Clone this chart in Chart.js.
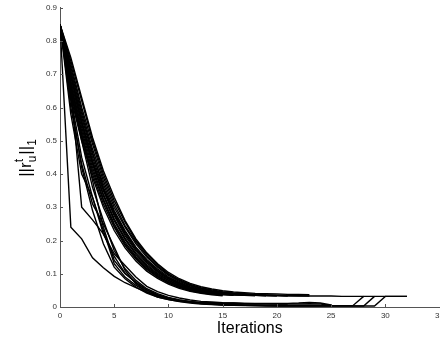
<!DOCTYPE html>
<html>
<head>
<meta charset="utf-8">
<script src="https://cdn.jsdelivr.net/npm/chart.js@4.4.1/dist/chart.umd.min.js"></script>
<style>
  html, body { margin: 0; padding: 0; background: #fff; overflow: hidden; }
  #wrap { position: relative; width: 448px; height: 341px; }
</style>
</head>
<body>
<div id="wrap"><canvas id="chart"></canvas></div>
<script>
// tick values
const xTicks = [0, 5, 10, 15, 20, 25, 30, 35];
const yTicks = [0, 0.1, 0.2, 0.3, 0.4, 0.5, 0.6, 0.7, 0.8, 0.9];

// upper bundle of residual curves (one value per iteration, from 0)
const b1 = [0.85,0.74,0.62,0.50,0.40,0.32,0.255,0.20,0.16,0.128,0.10,0.082,0.068,0.058,0.051,0.046,0.042,0.040,0.038,0.036,0.035,0.034,0.034,0.033,0.033,0.033,0.032,0.032,0.032,0.032,0.032,0.032,0.032];
const b2 = [0.85,0.73,0.60,0.49,0.39,0.31,0.245,0.195,0.155,0.123,0.098,0.080,0.066,0.056,0.049,0.044,0.041,0.039,0.037,0.036,0.035,0.034,0.033,0.033];
const b3 = [0.85,0.72,0.59,0.475,0.38,0.30,0.24,0.19,0.15,0.12,0.095,0.077,0.064,0.054,0.047,0.043,0.040,0.038,0.036,0.035,0.034,0.033];
const b4 = [0.85,0.70,0.57,0.46,0.37,0.29,0.23,0.18,0.143,0.114,0.091,0.074,0.061,0.052,0.046,0.042,0.039,0.037,0.035,0.034,0.033];
const b5 = [0.85,0.71,0.58,0.465,0.36,0.285,0.225,0.177,0.14,0.11,0.088,0.072,0.059,0.050,0.044,0.040,0.038,0.036,0.035,0.034];
const b6 = [0.85,0.69,0.56,0.45,0.355,0.28,0.22,0.173,0.137,0.108,0.086,0.070,0.058,0.049,0.043,0.040,0.037,0.035,0.034];
const b7 = [0.85,0.68,0.55,0.44,0.35,0.275,0.215,0.168,0.133,0.105,0.084,0.068,0.056,0.048,0.042,0.039,0.036,0.035];
const b8 = [0.85,0.70,0.555,0.435,0.34,0.265,0.207,0.162,0.128,0.101,0.081,0.066,0.055,0.047,0.042,0.038,0.036];
const b9 = [0.85,0.67,0.54,0.43,0.335,0.26,0.203,0.158,0.124,0.098,0.079,0.064,0.053,0.045,0.040,0.037,0.035];
const b10 = [0.85,0.66,0.53,0.42,0.325,0.25,0.195,0.152,0.12,0.095,0.076,0.062,0.052,0.045,0.040,0.037];
const b11 = [0.85,0.65,0.52,0.41,0.32,0.245,0.19,0.148,0.116,0.092,0.074,0.060,0.050,0.044,0.039,0.036];
const b12 = [0.85,0.64,0.51,0.40,0.31,0.24,0.185,0.144,0.113,0.090,0.072,0.059,0.049,0.043,0.038];
const b13 = [0.85,0.75,0.63,0.51,0.41,0.33,0.26,0.205,0.163,0.13,0.104,0.085,0.071,0.061,0.054,0.049,0.045,0.043,0.041,0.040,0.039,0.038,0.038,0.037];
const b14 = [0.85,0.63,0.50,0.39,0.30,0.23,0.178,0.138,0.108,0.086,0.069,0.056,0.047,0.041,0.037,0.034];

// lower curves that drop fast and jump back up at the end
const l1 = [0.85,0.24,0.205,0.148,0.118,0.092,0.073,0.058,0.045,0.035,0.027,0.021,0.016,0.012,0.009,0.007,0.006,0.005,0.004,0.004,0.003,0.003,0.003,0.003,0.003,0.003,0.003,0.003,0.003,0.003,0.032,0.032,0.032];
const l2 = [0.85,0.66,0.30,0.262,0.22,0.152,0.102,0.072,0.050,0.036,0.026,0.019,0.014,0.010,0.008,0.006,0.005,0.004,0.004,0.003,0.003,0.003,0.003,0.003,0.003,0.003,0.003,0.003,0.003,0.032];
const l3 = [0.85,0.62,0.42,0.29,0.19,0.12,0.085,0.060,0.042,0.030,0.022,0.016,0.012,0.009,0.007,0.006,0.005,0.005,0.004,0.004,0.004,0.004,0.004,0.004,0.004,0.004,0.004,0.004,0.032];
const l4 = [0.85,0.63,0.45,0.33,0.23,0.13,0.09,0.065,0.046,0.033,0.024,0.019,0.016,0.014,0.013,0.012,0.012,0.011,0.011,0.011,0.011,0.011,0.012,0.014,0.012,0.006];
const l5 = [0.85,0.60,0.43,0.31,0.25,0.18,0.11,0.07,0.045,0.030,0.022,0.017,0.014,0.012,0.011,0.010,0.010,0.009,0.009,0.009,0.009,0.009,0.009,0.010,0.009,0.005];
const l6 = [0.85,0.65,0.50,0.36,0.26,0.17,0.115,0.08,0.055,0.040,0.029,0.021,0.016,0.012,0.010,0.008,0.007,0.006,0.006,0.005,0.005,0.005,0.005,0.005,0.005];
const l7 = [0.85,0.58,0.40,0.33,0.22,0.16,0.125,0.09,0.062,0.046,0.035,0.027,0.021,0.017,0.015,0.013,0.012,0.011,0.010,0.010,0.009,0.009];
const l8 = [0.85,0.67,0.52,0.38,0.24,0.14,0.10,0.075,0.052,0.037,0.027,0.020,0.015,0.011,0.009,0.007,0.006,0.005];

const seriesList = [b1, b2, b3, b4, b5, b6, b7, b8, b9, b10, b11, b12, b13, b14, l1, l2, l3, l4, l5, l6, l7, l8];

const datasets = seriesList.map(vals => ({
  data: vals.map((v, i) => ({ x: i, y: v })),
  borderColor: '#000',
  borderWidth: 1.4,
  pointRadius: 0,
  tension: 0,
  fill: false
}));

const axisColor = '#555';

// small tick marks pointing into the plot, like the original
const innerTicks = {
  id: 'innerTicks',
  afterDatasetsDraw(chart) {
    const ctx = chart.ctx;
    const xs = chart.scales.x, ys = chart.scales.y;
    const a = chart.chartArea;
    ctx.save();
    ctx.strokeStyle = axisColor;
    ctx.lineWidth = 1;
    ctx.beginPath();
    xTicks.forEach(t => {
      const px = Math.round(xs.getPixelForValue(t)) + 0.5;
      ctx.moveTo(px, a.bottom);
      ctx.lineTo(px, a.bottom - 3);
    });
    yTicks.forEach(t => {
      const py = Math.round(ys.getPixelForValue(t)) + 0.5;
      ctx.moveTo(a.left, py);
      ctx.lineTo(a.left + 3, py);
    });
    ctx.stroke();
    ctx.restore();
  }
};

// y axis title ||r^t_u||_1 drawn with sub/superscripts
const yTitle = {
  id: 'yTitle',
  afterDraw(chart) {
    const ctx = chart.ctx;
    const main = '17px "Liberation Sans", Arial, sans-serif';
    const small = '12px "Liberation Sans", Arial, sans-serif';
    ctx.save();
    ctx.translate(31, 158);
    ctx.rotate(-Math.PI / 2);
    ctx.fillStyle = '#000';
    ctx.textBaseline = 'alphabetic';
    ctx.font = main;
    const w1 = ctx.measureText('||r').width;
    const w3 = ctx.measureText('||').width;
    ctx.font = small;
    const wt = ctx.measureText('t').width;
    const wu = ctx.measureText('u').width;
    const w4 = ctx.measureText('1').width;
    const w2 = Math.max(wt, wu) + 1;
    let x = -(w1 + w2 + w3 + w4) / 2;
    ctx.font = main;
    ctx.fillText('||r', x, 0);
    x += w1;
    ctx.font = small;
    ctx.fillText('t', x, -8);
    ctx.fillText('u', x, 5);
    x += w2;
    ctx.font = main;
    ctx.fillText('||', x, 0);
    x += w3;
    ctx.font = small;
    ctx.fillText('1', x, 5);
    ctx.restore();
  }
};

new Chart(document.getElementById('chart'), {
  type: 'line',
  data: { datasets },
  options: {
    responsive: true,
    maintainAspectRatio: false,
    animation: false,
    layout: { padding: { left: 0, top: 7, right: 7, bottom: 0 } },
    plugins: { legend: { display: false }, tooltip: { enabled: false } },
    scales: {
      x: {
        type: 'linear',
        min: 0,
        max: 35,
        afterBuildTicks: s => { s.ticks = xTicks.map(v => ({ value: v })); },
        afterFit: s => { s.height = 34; },
        grid: { display: false, drawTicks: false },
        border: { display: true, color: axisColor, width: 1 },
        ticks: {
          padding: 4,
          maxRotation: 0,
          color: '#333',
          font: { family: '"Liberation Sans", Arial, sans-serif', size: 8 }
        },
        title: {
          display: true,
          text: 'Iterations',
          color: '#000',
          padding: { top: 0, bottom: 3 },
          font: { family: '"Liberation Sans", Arial, sans-serif', size: 16 }
        }
      },
      y: {
        min: 0,
        max: 0.9,
        afterBuildTicks: s => { s.ticks = yTicks.map(v => ({ value: v })); },
        afterFit: s => { s.width = 60; },
        grid: { display: false, drawTicks: false },
        border: { display: true, color: axisColor, width: 1 },
        ticks: {
          padding: 3,
          color: '#333',
          callback: v => String(Math.round(v * 10) / 10),
          font: { family: '"Liberation Sans", Arial, sans-serif', size: 8 }
        }
      }
    }
  },
  plugins: [innerTicks, yTitle]
});
</script>
</body>
</html>
